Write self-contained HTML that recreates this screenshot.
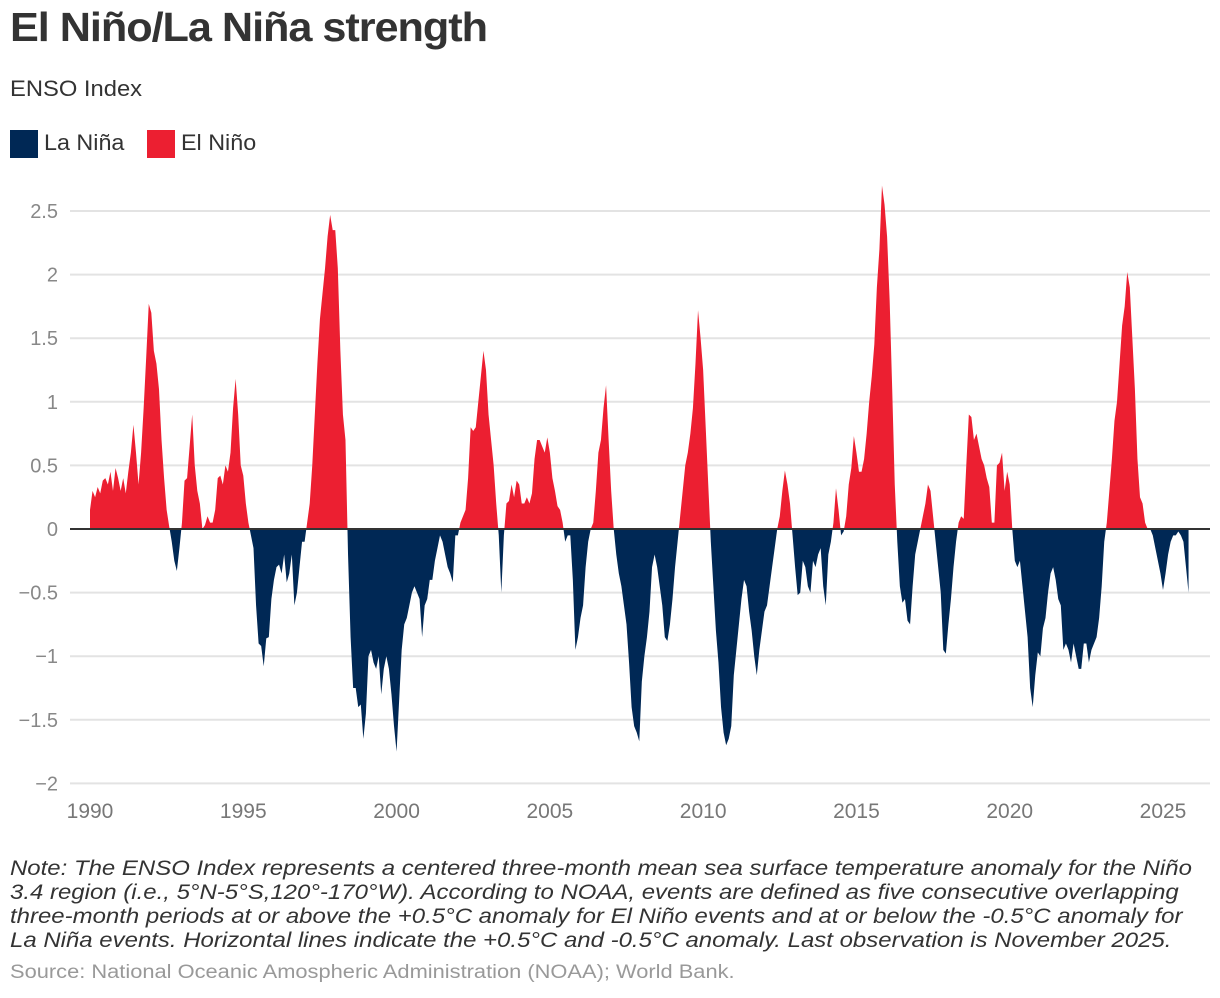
<!DOCTYPE html>
<html><head><meta charset="utf-8">
<style>
body{margin:0;background:#fff;font-family:"Liberation Sans",Arial,sans-serif;}
#wrap{position:relative;width:1220px;height:998px;overflow:hidden;}
.t{position:absolute;white-space:nowrap;transform-origin:0 0;}
</style></head>
<body>
<div id="wrap">
<div class="t" style="left:10px;top:4px;font-size:41px;font-weight:bold;color:#333;letter-spacing:-1px;transform:scaleX(1.055);">El Niño/La Niña strength</div>
<div class="t" style="left:10px;top:76px;font-size:22px;color:#333;transform:scaleX(1.08);">ENSO Index</div>
<div>
<div style="position:absolute;left:10px;top:130px;width:28px;height:28px;background:#002855;"></div>
<div class="t" style="left:44px;top:130px;font-size:22px;color:#333;transform:scaleX(1.06);">La Niña</div>
<div style="position:absolute;left:147px;top:130px;width:28px;height:28px;background:#ec1f31;"></div>
<div class="t" style="left:181px;top:130px;font-size:22px;color:#333;transform:scaleX(1.06);">El Niño</div>
</div>
<svg id="chart" width="1220" height="840" style="position:absolute;left:0;top:0;"></svg>
<div style="position:absolute;left:10px;top:856px;font-size:21.5px;font-style:italic;color:#333;line-height:24px;">
<div class="t" style="position:relative;transform:scaleX(1.115);">Note: The ENSO Index represents a centered three-month mean sea surface temperature anomaly for the Niño</div>
<div class="t" style="position:relative;transform:scaleX(1.115);">3.4 region (i.e., 5°N-5°S,120°-170°W). According to NOAA, events are defined as five consecutive overlapping</div>
<div class="t" style="position:relative;transform:scaleX(1.115);">three-month periods at or above the +0.5°C anomaly for El Niño events and at or below the -0.5°C anomaly for</div>
<div class="t" style="position:relative;transform:scaleX(1.115);">La Niña events. Horizontal lines indicate the +0.5°C and -0.5°C anomaly. Last observation is November 2025.</div>
</div>
<div class="t" style="left:10px;top:962px;font-size:19px;color:#999;transform:scaleX(1.15);">Source: National Oceanic Amospheric Administration (NOAA); World Bank.</div>
</div>
<script>
const startYear = 1990;
const values = [
0.15,0.3,0.25,0.33,0.28,0.38,0.4,0.35,0.45,0.3,0.48,0.4,
0.3,0.4,0.28,0.45,0.6,0.82,0.6,0.35,0.6,0.95,1.35,1.77,
1.7,1.4,1.3,1.1,0.7,0.4,0.15,0.02,-0.1,-0.25,-0.33,-0.15,
0.05,0.38,0.4,0.65,0.9,0.5,0.3,0.2,0.0,0.03,0.1,0.05,
0.05,0.15,0.4,0.42,0.35,0.5,0.45,0.6,0.95,1.18,0.9,0.5,
0.42,0.2,0.05,-0.05,-0.15,-0.6,-0.9,-0.92,-1.08,-0.86,-0.85,-0.55,
-0.4,-0.3,-0.28,-0.35,-0.2,-0.42,-0.35,-0.2,-0.6,-0.5,-0.3,-0.1,
-0.1,0.05,0.2,0.5,0.9,1.3,1.65,1.85,2.05,2.3,2.47,2.35,
2.35,2.05,1.4,0.9,0.7,-0.2,-0.85,-1.25,-1.25,-1.4,-1.38,-1.65,
-1.45,-1.0,-0.95,-1.05,-1.1,-1.0,-1.3,-1.1,-1.0,-1.1,-1.3,-1.55,
-1.75,-1.35,-0.95,-0.75,-0.7,-0.6,-0.5,-0.45,-0.5,-0.55,-0.85,-0.6,
-0.55,-0.4,-0.4,-0.25,-0.15,-0.05,-0.1,-0.2,-0.3,-0.35,-0.42,-0.05,
-0.05,0.05,0.1,0.15,0.4,0.8,0.77,0.8,1.0,1.2,1.4,1.25,
0.9,0.7,0.5,0.2,-0.05,-0.5,-0.05,0.2,0.22,0.35,0.25,0.38,
0.35,0.2,0.2,0.25,0.2,0.28,0.55,0.7,0.7,0.65,0.6,0.72,
0.6,0.4,0.3,0.18,0.15,0.05,-0.1,-0.05,-0.05,-0.4,-0.95,-0.85,
-0.7,-0.6,-0.3,-0.1,0.0,0.05,0.3,0.6,0.7,0.95,1.13,0.7,
0.3,0.0,-0.2,-0.35,-0.45,-0.6,-0.75,-1.05,-1.4,-1.55,-1.6,-1.67,
-1.2,-1.0,-0.85,-0.65,-0.3,-0.2,-0.3,-0.45,-0.6,-0.85,-0.88,-0.75,
-0.55,-0.3,-0.1,0.1,0.3,0.5,0.6,0.75,0.95,1.3,1.72,1.5,
1.25,0.8,0.35,-0.1,-0.45,-0.8,-1.05,-1.4,-1.6,-1.7,-1.65,-1.55,
-1.15,-0.95,-0.75,-0.55,-0.4,-0.45,-0.65,-0.8,-1.0,-1.15,-0.95,-0.8,
-0.65,-0.6,-0.45,-0.3,-0.15,0.0,0.1,0.3,0.46,0.35,0.2,-0.05,
-0.3,-0.52,-0.5,-0.25,-0.3,-0.45,-0.5,-0.25,-0.3,-0.2,-0.15,-0.45,
-0.6,-0.2,-0.1,0.05,0.32,0.15,-0.05,-0.02,0.1,0.35,0.48,0.73,
0.6,0.45,0.45,0.55,0.75,1.0,1.2,1.45,1.9,2.2,2.7,2.55,
2.3,1.8,1.1,0.35,-0.1,-0.45,-0.58,-0.55,-0.72,-0.75,-0.45,-0.2,
-0.1,0.0,0.1,0.2,0.35,0.3,0.1,-0.1,-0.3,-0.5,-0.95,-0.98,
-0.75,-0.55,-0.3,-0.1,0.05,0.1,0.08,0.5,0.9,0.88,0.7,0.75,
0.65,0.55,0.5,0.4,0.33,0.05,0.05,0.5,0.52,0.6,0.3,0.45,
0.35,0.0,-0.25,-0.3,-0.25,-0.45,-0.65,-0.85,-1.25,-1.4,-1.15,-0.97,
-1.0,-0.78,-0.7,-0.5,-0.35,-0.3,-0.4,-0.55,-0.6,-0.95,-0.9,-0.95,
-1.05,-0.9,-1.0,-1.1,-1.1,-0.9,-0.9,-1.05,-0.95,-0.9,-0.85,-0.7,
-0.45,-0.1,0.05,0.3,0.55,0.85,1.0,1.3,1.6,1.75,2.02,1.9,
1.5,1.1,0.55,0.25,0.2,0.05,0.0,0.0,-0.05,-0.15,-0.25,-0.35,
-0.48,-0.35,-0.2,-0.1,-0.05,-0.05,-0.02,-0.05,-0.1,-0.3,-0.5
];
const yTicks = [2.5,2,1.5,1,0.5,0,-0.5,-1,-1.5,-2];
const yTickLabels = ["2.5","2","1.5","1","0.5","0","−0.5","−1","−1.5","−2"];
const xTicks = [1990,1995,2000,2005,2010,2015,2020,2025];

const svg = document.getElementById('chart');
const NS = 'http://www.w3.org/2000/svg';
const x0 = 90, x1 = 1163, y0 = 529, pxPerUnit = 127.2;
const xScale = yr => x0 + (yr - 1990) * (x1 - x0) / 35;
const yScale = v => y0 - v * pxPerUnit;
function mk(tag, attrs){ const e = document.createElementNS(NS, tag); for (const k in attrs) e.setAttribute(k, attrs[k]); svg.appendChild(e); return e; }

yTicks.forEach((t,i)=>{
  if (t !== 0) {
    const g = mk('line',{x1:70,x2:1210,y1:yScale(t),y2:yScale(t),stroke:'#e3e3e3','stroke-width':2});
    
    
  }
  const l = mk('text',{x:58,y:yScale(t)+7,'text-anchor':'end','font-size':20,fill:'#888','font-family':'Liberation Sans, Arial, sans-serif'});
  l.textContent = yTickLabels[i];
  
  
});
xTicks.forEach(t=>{
  const l = mk('text',{x:xScale(t),y:818,'text-anchor':'middle','font-size':21,fill:'#777','font-family':'Liberation Sans, Arial, sans-serif'});
  l.textContent = String(t);
  
  
});

let d = 'M' + xScale(startYear) + ',' + y0;
values.forEach((v,i)=>{ d += ' L' + xScale(startYear + i/12).toFixed(2) + ',' + yScale(v).toFixed(2); });
d += ' L' + xScale(startYear + (values.length-1)/12).toFixed(2) + ',' + y0 + ' Z';

const defs = mk('defs',{});
const cpA = document.createElementNS(NS,'clipPath'); cpA.setAttribute('id','above');
const rA = document.createElementNS(NS,'rect'); rA.setAttribute('x',0); rA.setAttribute('y',0); rA.setAttribute('width',1220); rA.setAttribute('height',y0);
cpA.appendChild(rA); defs.appendChild(cpA);
const cpB = document.createElementNS(NS,'clipPath'); cpB.setAttribute('id','below');
const rB = document.createElementNS(NS,'rect'); rB.setAttribute('x',0); rB.setAttribute('y',y0); rB.setAttribute('width',1220); rB.setAttribute('height',400);
cpB.appendChild(rB); defs.appendChild(cpB);

const pos = mk('path',{d:d,fill:'#ec1f31','clip-path':'url(#above)'});


const neg = mk('path',{d:d,fill:'#002855','clip-path':'url(#below)'});


const z = mk('line',{x1:70,x2:1210,y1:y0,y2:y0,stroke:'#333','stroke-width':2});


</script>
</body></html>
